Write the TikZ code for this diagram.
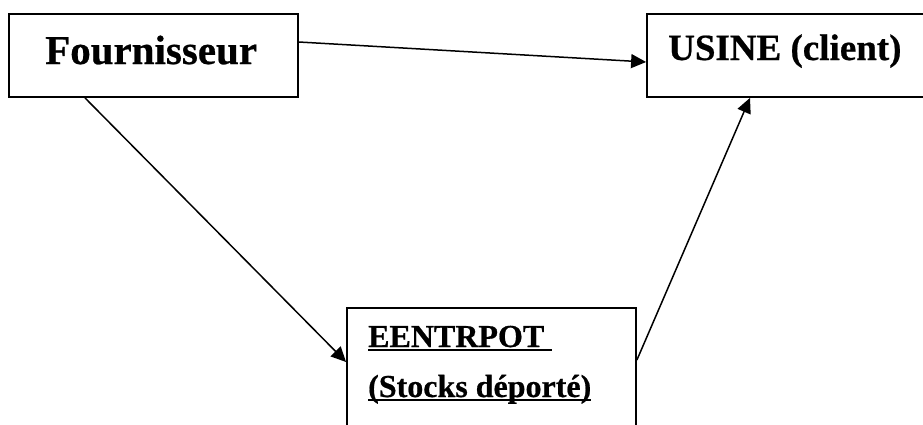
\documentclass[tikz,border=0pt]{standalone}
\usepackage{fontspec}
\setmainfont{Liberation Serif}[BoldFeatures={FakeBold=0.6}]
\usetikzlibrary{arrows.meta}
% underline drawn as a rule just under the baseline
\newcommand\ulword[1]{\setbox0\hbox{#1}\rlap{\vrule height -2.2pt depth 4pt width \wd0}\box0}
\begin{document}
\begin{tikzpicture}[x=1pt,y=-1pt,
  box/.style={draw,line width=1.8pt,inner sep=0pt,minimum width=#1},
  lbl/.style={anchor=base west,inner sep=0pt,font=\bfseries},
  arr/.style={line width=1.5pt,-{Triangle[length=15pt,width=14pt]}}]
\useasboundingbox (0,0) rectangle (923,424);
\clip (0,0) rectangle (923,424);
% boxes
\node[box=289pt,minimum height=83pt] (four) at (153.5,55.5) {};
\node[box=288pt,minimum height=83pt] (usine) at (791,55.5) {};
\node[box=289pt,minimum height=132pt] (ent) at (491.5,374) {};
% texts
\node[lbl,font=\bfseries\fontsize{41}{41}\selectfont] (tfour) at (45,64) {Fournisseur};
\node[lbl,font=\bfseries\fontsize{37}{37}\selectfont] (tusine) at (668,60) {USINE (client)};
\node[lbl,font=\bfseries\fontsize{32}{32}\selectfont] (tent1) at (368,347) {\ulword{EENTRPOT\ }};
\node[lbl,font=\bfseries\fontsize{32}{32}\selectfont] (tent2) at (368,397) {\ulword{(Stocks déporté)}};
% flows
\draw[arr] ([yshift=13.5pt]four.east) -- ([yshift=-6.5pt]usine.west);
\draw[arr] ([xshift=-68.5pt]four.south) -- ([yshift=12pt]ent.west);
\draw[arr] ([yshift=14pt]ent.east) -- ([xshift=-41pt]usine.south);
\end{tikzpicture}
\end{document}
